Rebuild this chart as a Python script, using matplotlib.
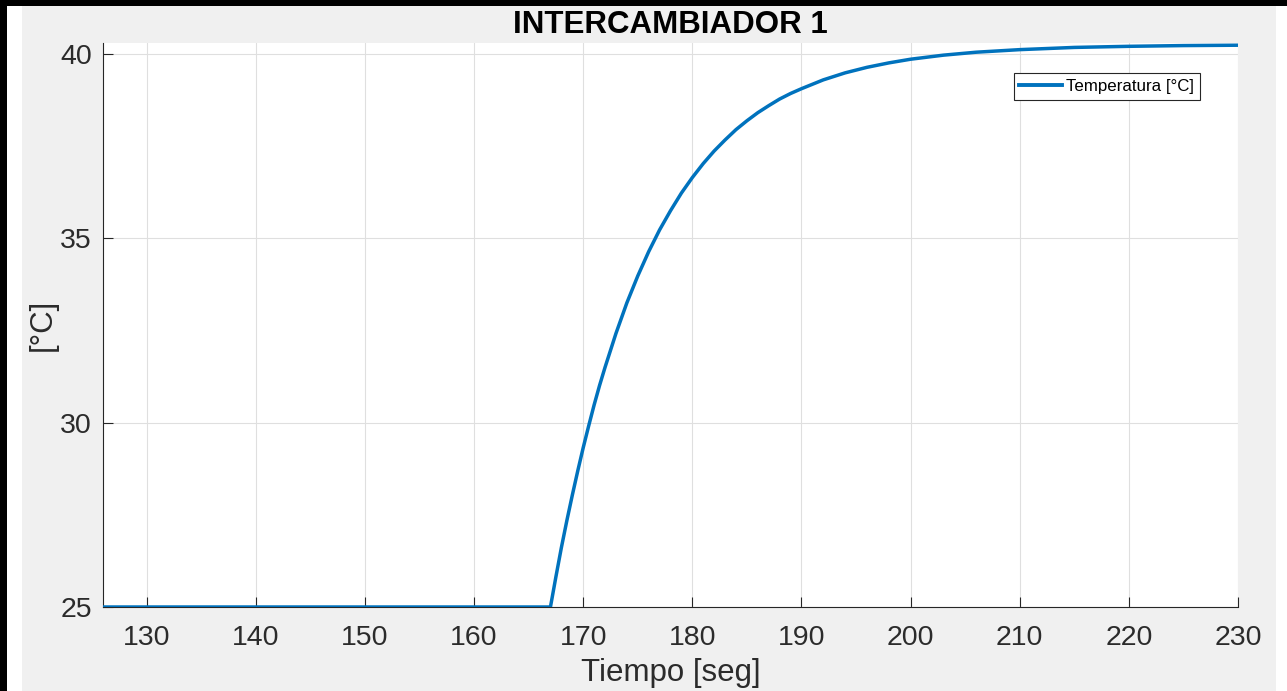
import numpy as np
import matplotlib.pyplot as plt
from matplotlib.patches import Rectangle

plt.rcParams['font.family'] = ['Liberation Sans', 'DejaVu Sans']

# Respuesta del intercambiador (lecturas de tiempo y temperatura)
tiempo = [126, 167, 167.5, 168, 168.5, 169, 169.5, 170, 170.5, 171, 171.5,
          172, 173, 174, 175, 176, 177, 178, 179, 180, 181, 182, 183, 184,
          185, 186, 187, 188, 189, 190, 192, 194, 196, 198, 200, 203, 206,
          210, 215, 220, 225, 230]
temperatura = [25.00, 25.00, 25.82, 26.61, 27.34, 28.03, 28.69, 29.32, 29.91,
               30.48, 31.01, 31.50, 32.42, 33.25, 33.98, 34.64, 35.23, 35.75,
               36.23, 36.65, 37.03, 37.37, 37.67, 37.95, 38.19, 38.41, 38.60,
               38.78, 38.93, 39.06, 39.30, 39.49, 39.64, 39.76, 39.86, 39.97,
               40.05, 40.12, 40.18, 40.21, 40.23, 40.24]

xticks = [130, 140, 150, 160, 170, 180, 190, 200, 210, 220, 230]
yticks = [25, 30, 35, 40]

azul = '#0072BD'
gris_ejes = '#262626'

fig = plt.figure(figsize=(12.87, 6.91), dpi=100, facecolor='white')

# marco de la ventana
fig.patches.append(Rectangle((22 / 1287, 0), (1276 - 22) / 1287, 1 - 6 / 691,
                             transform=fig.transFigure, facecolor='#f0f0f0',
                             edgecolor='none', zorder=-2))
fig.patches.append(Rectangle((0, 1 - 6 / 691), 1, 6 / 691,
                             transform=fig.transFigure, facecolor='black',
                             edgecolor='none', zorder=-1))
fig.patches.append(Rectangle((0, 0), 7 / 1287, 1,
                             transform=fig.transFigure, facecolor='black',
                             edgecolor='none', zorder=-1))

ax = fig.add_axes([103 / 1287, 1 - 607 / 691, (1238 - 103) / 1287, (607 - 43) / 691])
ax.set_facecolor('white')

ax.plot(tiempo, temperatura, color=azul, linewidth=2.5, label='Temperatura [°C]',
        solid_joinstyle='round', zorder=3)

ax.set_xlim(126, 230)
ax.set_ylim(25, 40.3)
ax.set_xticks(xticks)
ax.set_yticks(yticks)

ax.grid(True, color='#dfdfdf', linewidth=0.8)
ax.set_axisbelow(True)

for lado in ['top', 'right']:
    ax.spines[lado].set_visible(False)
for lado in ['left', 'bottom']:
    ax.spines[lado].set_color(gris_ejes)
    ax.spines[lado].set_linewidth(0.8)

ax.tick_params(direction='in', length=7, width=0.8, color=gris_ejes,
               labelsize=20.5, labelcolor='#2b2b2b')
ax.tick_params(axis='x', pad=13)
ax.tick_params(axis='y', pad=8)

ax.set_title('INTERCAMBIADOR 1', fontsize=22.5, fontweight='bold', pad=7)
ax.set_xlabel('Tiempo [seg]', fontsize=22.5, color='#2b2b2b', labelpad=5)
ax.set_ylabel('[°C]', fontsize=22.5, color='#2b2b2b', labelpad=2)

leg = ax.legend(loc='upper right', bbox_to_anchor=(0.9665, 0.947),
                borderaxespad=0, fontsize=12.2, frameon=True, fancybox=False,
                handlelength=2.5, handletextpad=0.25, borderpad=0.35)
leg.get_frame().set_edgecolor(gris_ejes)
leg.get_frame().set_linewidth(0.8)
leg.get_frame().set_alpha(1)
for linea in leg.get_lines():
    linea.set_linewidth(2.8)

fig.savefig('out.png', dpi=100, facecolor=fig.get_facecolor())
